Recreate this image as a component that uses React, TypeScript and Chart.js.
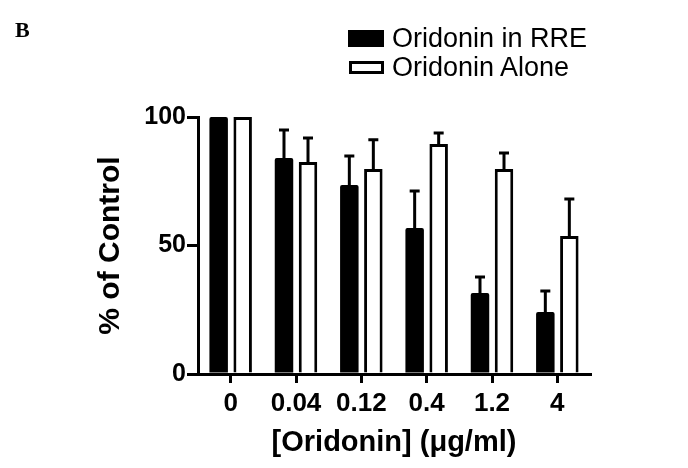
import React, { useEffect, useRef } from "react";
import { Chart, registerables } from "chart.js";

Chart.register(...registerables);

const categories = ["0", "0.04", "0.12", "0.4", "1.2", "4"];
const rreValues = [100, 84.0, 73.5, 56.8, 31.5, 24.1];
const rreErrors = [0, 10.9, 11.3, 14.4, 6.2, 8.2];
const aloneValues = [100, 82.5, 79.8, 89.5, 79.8, 53.7];
const aloneErrors = [0, 9.3, 11.3, 4.3, 6.2, 14.4];
const yTicks = [0, 50, 100];
const seriesNames = ["Oridonin in RRE", "Oridonin Alone"];

const errorBarPlugin = {
  id: "errorBars",
  afterDatasetsDraw(chart: any) {
    const { ctx } = chart;
    const yScale = chart.scales.y;
    const errs = [rreErrors, aloneErrors];
    const vals = [rreValues, aloneValues];
    ctx.save();
    ctx.strokeStyle = "#000";
    ctx.lineWidth = 3;
    ctx.lineCap = "butt";
    chart.data.datasets.forEach((_: any, di: number) => {
      const meta = chart.getDatasetMeta(di);
      meta.data.forEach((bar: any, i: number) => {
        const e = errs[di][i];
        if (!e) return;
        const x = bar.x;
        const y0 = yScale.getPixelForValue(vals[di][i]);
        const y1 = yScale.getPixelForValue(vals[di][i] + e);
        ctx.beginPath();
        ctx.moveTo(x, y0);
        ctx.lineTo(x, y1);
        ctx.moveTo(x - 5, y1);
        ctx.lineTo(x + 5, y1);
        ctx.stroke();
      });
    });
    ctx.restore();
  },
};

export default function App() {
  const ref = useRef<HTMLCanvasElement>(null);
  useEffect(() => {
    if (!ref.current) return;
    const font = "'Liberation Sans', Arial, sans-serif";
    const chart = new Chart(ref.current, {
      type: "bar",
      data: {
        labels: categories,
        datasets: [
          {
            label: seriesNames[0],
            data: rreValues,
            backgroundColor: "#000",
            borderWidth: 0,
            borderRadius: 2,
            borderSkipped: "start",
          },
          {
            label: seriesNames[1],
            data: aloneValues,
            backgroundColor: "#fff",
            borderColor: "#000",
            borderWidth: 3,
            borderSkipped: "start",
          },
        ],
      },
      options: {
        responsive: false,
        animation: false,
        devicePixelRatio: 1,
        layout: { padding: { left: 0, right: 98, top: 117, bottom: 0 } },
        datasets: {
          bar: { categoryPercentage: 0.735, barPercentage: 0.77 },
        },
        plugins: {
          legend: { display: false },
          tooltip: { enabled: false },
        },
        scales: {
          x: {
            type: "category",
            offset: true,
            border: { display: true, color: "#000", width: 3 },
            grid: {
              display: true,
              drawOnChartArea: false,
              drawTicks: true,
              tickLength: 9,
              offset: false,
              color: "#000",
              lineWidth: 3,
            },
            ticks: {
              color: "#000",
              padding: 5,
              font: { family: font, size: 26, weight: "bold" },
              maxRotation: 0,
            },
            title: {
              display: true,
              text: "[Oridonin] (\u03bcg/ml)",
              color: "#000",
              font: { family: font, size: 29, weight: "bold" },
              padding: { top: 0, bottom: 8 },
            },
            afterFit: (s: any) => {
              s.height = 94;
            },
          },
          y: {
            min: 0,
            max: 100,
            border: { display: true, color: "#000", width: 3 },
            grid: {
              display: true,
              drawOnChartArea: false,
              drawTicks: true,
              tickLength: 11,
              color: "#000",
              lineWidth: 3,
            },
            afterBuildTicks: (s: any) => {
              s.ticks = yTicks.map((v) => ({ value: v }));
            },
            ticks: {
              color: "#000",
              padding: 1,
              font: { family: font, size: 25, weight: "bold" },
            },
            title: {
              display: true,
              text: "% of Control",
              color: "#000",
              font: { family: font, size: 30, weight: "bold" },
              padding: { top: 93, bottom: 0 },
            },
            afterFit: (s: any) => {
              s.width = 198;
            },
          },
        },
      },
      plugins: [errorBarPlugin],
    });
    return () => chart.destroy();
  }, []);

  const legendText: React.CSSProperties = {
    position: "absolute",
    left: 392,
    fontFamily: "'Liberation Sans', Arial, sans-serif",
    fontSize: 27,
    color: "#000",
    whiteSpace: "nowrap",
    lineHeight: "30px",
  };

  return (
    <div
      style={{
        position: "fixed",
        left: 0,
        top: 0,
        width: 688,
        height: 468,
        background: "#fff",
        overflow: "hidden",
      }}
    >
      <canvas ref={ref} width={688} height={468} style={{ position: "absolute", left: 0, top: 0 }} />
      <div
        style={{
          position: "absolute",
          left: 15,
          top: 18,
          fontFamily: "'Liberation Serif', 'Times New Roman', serif",
          fontWeight: "bold",
          fontSize: 22,
          lineHeight: "24px",
          color: "#000",
        }}
      >
        B
      </div>
      <div style={{ position: "absolute", left: 348, top: 30, width: 36, height: 17, background: "#000" }} />
      <div
        style={{
          position: "absolute",
          left: 349,
          top: 61,
          width: 35,
          height: 13,
          border: "3px solid #000",
          boxSizing: "border-box",
          background: "#fff",
        }}
      />
      <div style={{ ...legendText, top: 23 }}>{seriesNames[0]}</div>
      <div style={{ ...legendText, top: 52 }}>{seriesNames[1]}</div>
    </div>
  );
}
